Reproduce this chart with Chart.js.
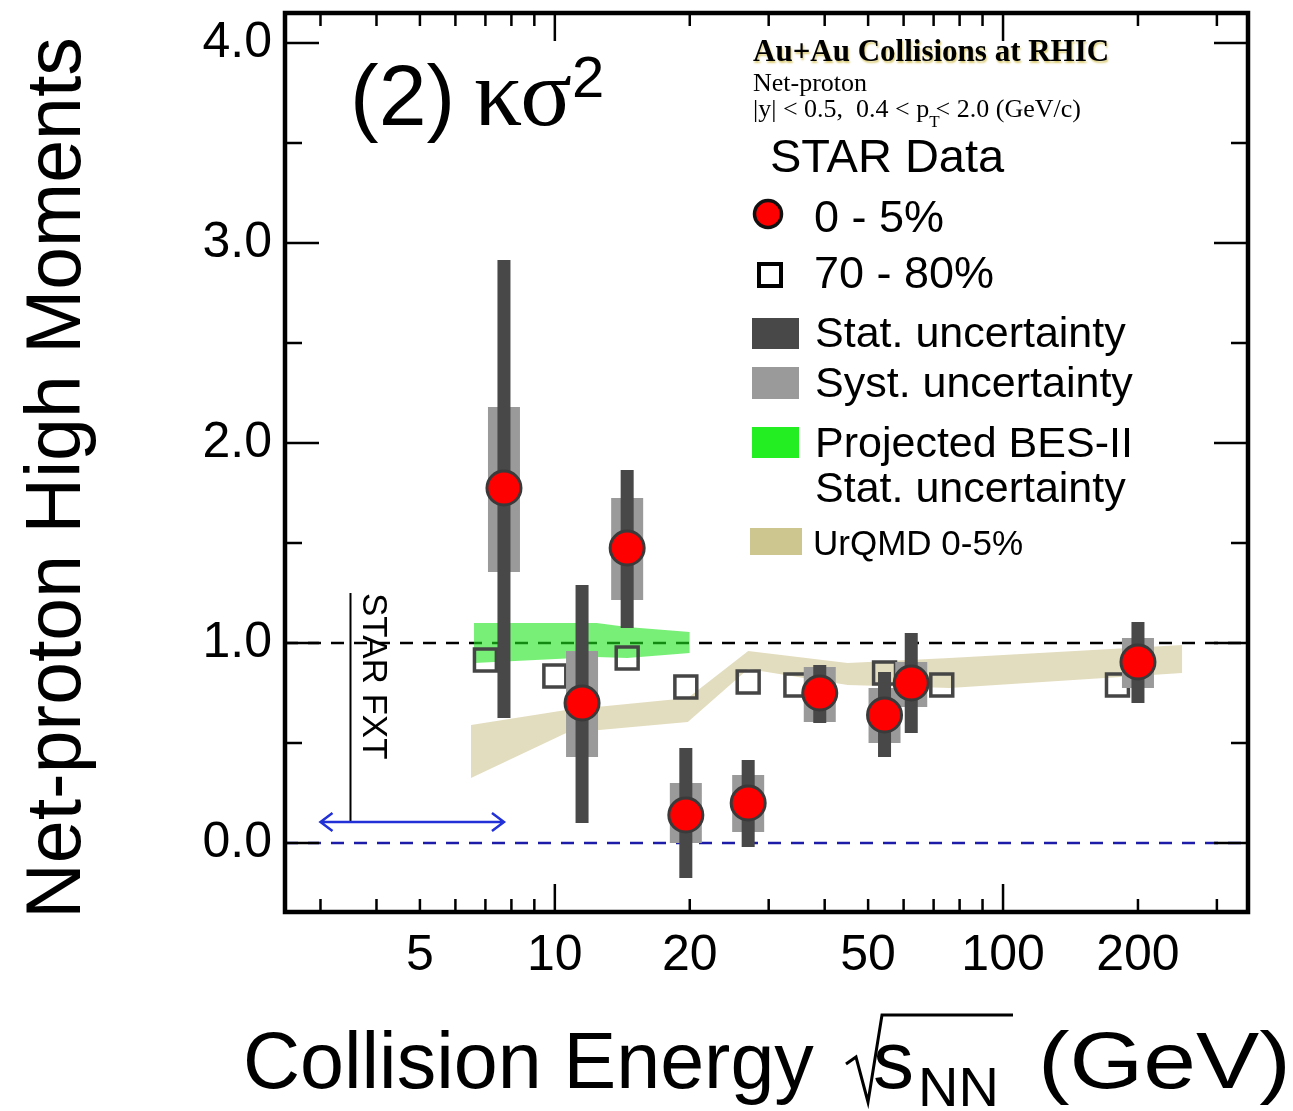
<!DOCTYPE html>
<html>
<head>
<meta charset="utf-8">
<script src="https://cdn.jsdelivr.net/npm/chart.js@4.4.0/dist/chart.umd.min.js"></script>
<style>
  html, body { margin:0; padding:0; background:#fff; }
  #chart { display:block; }
</style>
</head>
<body>
<canvas id="chart" width="1293" height="1111"></canvas>
<script>
// STAR 0-5% net-proton kappa*sigma^2 (collision energy in GeV)
const energies = [7.7, 11.5, 14.5, 19.6, 27, 39, 54.4, 62.4, 200]
const central = [1.775, 0.70, 1.475, 0.14, 0.20, 0.75, 0.64, 0.80, 0.905]
const statLow = [0.625, 0.10, 1.075, -0.175, -0.02, 0.60, 0.43, 0.55, 0.70]
const statHigh = [2.915, 1.29, 1.865, 0.475, 0.415, 0.89, 0.855, 1.05, 1.105]
const systLow = [1.355, 0.43, 1.215, 0.00, 0.055, 0.605, 0.50, 0.68, 0.775]
const systHigh = [2.18, 0.96, 1.725, 0.30, 0.34, 0.88, 0.775, 0.905, 1.025]

// 70-80% peripheral (drawn shifted in energy to avoid overlap)
const periphEnergies = [7.0, 10.0, 14.5, 19.6, 27, 34.5, 54.4, 73, 180]
const periph = [0.915, 0.835, 0.925, 0.78, 0.805, 0.79, 0.85, 0.79, 0.79]

// projected BES-II stat. uncertainty band
const besEnergies = [6.6, 12.4, 14.5, 20]
const besHigh = [1.10, 1.10, 1.08, 1.055]
const besLow = [0.90, 0.93, 0.925, 0.95]

// UrQMD 0-5% band
const urqmdEnergies = [6.5, 10.6, 19.8, 27, 45, 76, 251]
const urqmdHigh = [0.59, 0.665, 0.725, 0.96, 0.90, 0.925, 0.99]
const urqmdLow = [0.325, 0.55, 0.605, 0.87, 0.79, 0.775, 0.85]

// axes
const xTicks = [3, 4, 5, 6, 7, 8, 9, 10, 20, 30, 40, 50, 60, 70, 80, 90, 100, 200, 300]
const xMajor = [10, 100]
const xLabels = [5, 10, 20, 50, 100, 200]
const yTicks = [0, 1, 2, 3, 4]
const yMinor = [0.5, 1.5, 2.5, 3.5]
const xRange = [2.5, 352]

// STAR FXT marker
const fxtEnergy = 3.5
const fxtArrow = [3.0, 7.7]
const fxtLevel = 0.105
const fxtTop = 1.25

const SANS = '"Liberation Sans", Arial, Helvetica, sans-serif'
const SERIF = '"Liberation Serif", "Times New Roman", serif'
const FRAME_TOP = 13

function pts(xs, ys){ return xs.map((x, i) => ({ x, y: ys[i] })) }
function bars(lo, hi){
  const out = []
  energies.forEach((e, i) => { out.push({ x: e, y: lo[i] }, { x: e, y: hi[i] }, { x: e, y: null }) })
  return out
}

const clear = 'rgba(0,0,0,0)'

const deco = {
  id: 'deco',
  // pin the top of the plot frame (layout keeps adding a few px for the top label)
  afterLayout(chart){
    const ys = chart.scales.y
    const diff = ys.top - FRAME_TOP
    if (diff !== 0){
      ys.top = FRAME_TOP; ys.height += diff
      chart.chartArea.top = FRAME_TOP; chart.chartArea.height += diff
      ys.configure()
    }
  },
  afterDraw(chart){
    const ctx = chart.ctx
    const xs = chart.scales.x, ys = chart.scales.y
    const { left, right, top, bottom } = chart.chartArea
    ctx.save()

    // STAR FXT annotation
    const fx = xs.getPixelForValue(fxtEnergy)
    const fyTop = ys.getPixelForValue(fxtTop), fyLev = ys.getPixelForValue(fxtLevel)
    ctx.strokeStyle = '#000'; ctx.lineWidth = 2
    ctx.beginPath(); ctx.moveTo(fx, fyTop); ctx.lineTo(fx, fyLev); ctx.stroke()
    const a0 = xs.getPixelForValue(fxtArrow[0]), a1 = xs.getPixelForValue(fxtArrow[1])
    ctx.strokeStyle = '#2230d8'; ctx.lineWidth = 2.5
    ctx.beginPath(); ctx.moveTo(a0, fyLev); ctx.lineTo(a1, fyLev)
    ctx.moveTo(a0 + 12, fyLev - 9); ctx.lineTo(a0, fyLev); ctx.lineTo(a0 + 12, fyLev + 9)
    ctx.moveTo(a1 - 12, fyLev - 9); ctx.lineTo(a1, fyLev); ctx.lineTo(a1 - 12, fyLev + 9)
    ctx.stroke()
    ctx.save()
    ctx.translate(fx + 13, fyTop)
    ctx.rotate(Math.PI / 2)
    ctx.fillStyle = '#000'; ctx.font = '35px ' + SANS; ctx.textBaseline = 'alphabetic'
    ctx.fillText('STAR FXT', 0, 0)
    ctx.restore()

    // frame and inward ticks
    ctx.strokeStyle = '#000'; ctx.lineWidth = 2.5
    ctx.beginPath()
    xTicks.forEach(v => {
      const px = xs.getPixelForValue(v)
      const len = xMajor.includes(v) ? 28 : 13
      ctx.moveTo(px, bottom); ctx.lineTo(px, bottom - len)
      ctx.moveTo(px, top); ctx.lineTo(px, top + len)
    })
    yTicks.forEach(v => {
      const py = ys.getPixelForValue(v)
      ctx.moveTo(left, py); ctx.lineTo(left + 34, py)
      ctx.moveTo(right, py); ctx.lineTo(right - 34, py)
    })
    yMinor.forEach(v => {
      const py = ys.getPixelForValue(v)
      ctx.moveTo(left, py); ctx.lineTo(left + 17, py)
      ctx.moveTo(right, py); ctx.lineTo(right - 17, py)
    })
    ctx.stroke()
    ctx.lineWidth = 4.5
    ctx.strokeRect(left, top, right - left, bottom - top)

    // panel label (2) κσ²
    ctx.fillStyle = '#000'; ctx.textBaseline = 'alphabetic'; ctx.textAlign = 'left'
    ctx.font = '86px ' + SANS
    ctx.fillText('(2)', 350, 125)
    ctx.font = '96px ' + SERIF
    ctx.fillText('κσ', 474, 125)
    ctx.font = '58px ' + SANS
    ctx.fillText('2', 572, 97)

    // header texts
    ctx.save()
    ctx.font = 'bold 31px ' + SERIF
    ctx.shadowColor = 'rgba(205,185,70,0.75)'; ctx.shadowBlur = 2; ctx.shadowOffsetX = 1; ctx.shadowOffsetY = 1.5
    ctx.fillText('Au+Au Collisions at RHIC', 753, 61)
    ctx.restore()
    ctx.font = '26px ' + SERIF
    ctx.fillText('Net-proton', 753, 91)
    let s1 = '|y| < 0.5,  0.4 < p'
    ctx.fillText(s1, 753, 117)
    let cx = 753 + ctx.measureText(s1).width
    ctx.font = '17px ' + SERIF
    ctx.fillText('T', cx, 127)
    cx += ctx.measureText('T').width - 4
    ctx.font = '26px ' + SERIF
    ctx.fillText('< 2.0 (GeV/c)', cx, 117)

    // legend
    ctx.font = '47px ' + SANS
    ctx.fillText('STAR Data', 770, 172)
    ctx.font = '45px ' + SANS
    ctx.beginPath(); ctx.arc(768, 214, 13.5, 0, Math.PI * 2)
    ctx.fillStyle = '#ff0000'; ctx.fill(); ctx.lineWidth = 3.5; ctx.strokeStyle = '#111'; ctx.stroke()
    ctx.fillStyle = '#000'
    ctx.fillText('0 - 5%', 814, 232)
    ctx.lineWidth = 4; ctx.strokeStyle = '#000'
    ctx.strokeRect(759, 264, 22, 22)
    ctx.fillText('70 - 80%', 814, 288)
    ctx.font = '43px ' + SANS
    ctx.fillStyle = '#484848'; ctx.fillRect(752, 318, 47, 31)
    ctx.fillStyle = '#000'; ctx.fillText('Stat. uncertainty', 815, 347)
    ctx.fillStyle = '#9a9a9a'; ctx.fillRect(752, 367, 47, 32)
    ctx.fillStyle = '#000'; ctx.fillText('Syst. uncertainty', 815, 397)
    ctx.fillStyle = '#22ee22'; ctx.fillRect(752, 427, 47, 31)
    ctx.fillStyle = '#000'; ctx.fillText('Projected BES-II', 815, 457)
    ctx.fillText('Stat. uncertainty', 815, 502)
    ctx.fillStyle = '#cdc68e'; ctx.fillRect(750, 528, 52, 27)
    ctx.fillStyle = '#000'; ctx.font = '35px ' + SANS
    ctx.fillText('UrQMD 0-5%', 813, 555)

    // y axis title
    ctx.save()
    ctx.translate(80, 478)
    ctx.rotate(-Math.PI / 2)
    ctx.textAlign = 'center'
    ctx.font = '77px ' + SANS
    ctx.fillText('Net-proton High Moments', 0, 0)
    ctx.restore()

    // x axis title with square root
    ctx.font = '79px ' + SANS
    ctx.fillText('Collision Energy', 243, 1088)
    ctx.strokeStyle = '#000'; ctx.lineWidth = 3
    ctx.beginPath()
    ctx.moveTo(846, 1064); ctx.lineTo(856, 1057); ctx.lineTo(868, 1102); ctx.lineTo(882, 1015); ctx.lineTo(1013, 1015)
    ctx.stroke()
    ctx.font = '82px ' + SANS
    ctx.fillText('s', 873, 1088)
    ctx.font = '56px ' + SANS
    ctx.fillText('NN', 918, 1106)
    ctx.save()
    ctx.translate(1038, 1088)
    ctx.scale(1.2, 1)
    ctx.font = '79px ' + SANS
    ctx.fillText('(GeV)', 0, 0)
    ctx.restore()

    ctx.restore()
  }
}

new Chart(document.getElementById('chart').getContext('2d'), {
  type: 'scatter',
  data: {
    datasets: [
      { label: 'ref1', data: pts(xRange, [1, 1]), showLine: true, borderColor: '#000', borderWidth: 2.5, borderDash: [13, 10], pointRadius: 0, order: 8 },
      { label: 'ref0', data: pts(xRange, [0, 0]), showLine: true, borderColor: '#1c1ca8', borderWidth: 2.5, borderDash: [13, 10], pointRadius: 0, order: 8 },
      { label: 'UrQMD hi', data: pts(urqmdEnergies, urqmdHigh), showLine: true, borderColor: clear, borderWidth: 1, pointRadius: 0, fill: '+1', backgroundColor: '#e3ddbf', order: 6 },
      { label: 'UrQMD lo', data: pts(urqmdEnergies, urqmdLow), showLine: true, borderColor: clear, borderWidth: 1, pointRadius: 0, fill: false, order: 6 },
      { label: 'BES hi', data: pts(besEnergies, besHigh), showLine: true, borderColor: clear, borderWidth: 1, pointRadius: 0, fill: '+1', backgroundColor: 'rgba(30,230,30,0.6)', order: 5 },
      { label: 'BES lo', data: pts(besEnergies, besLow), showLine: true, borderColor: clear, borderWidth: 1, pointRadius: 0, fill: false, order: 5 },
      { label: '70-80%', data: pts(periphEnergies, periph), pointStyle: 'rect', pointRadius: 15.5, pointBorderWidth: 3.5, pointBorderColor: '#454545', pointBackgroundColor: clear, order: 4 },
      { label: 'syst', data: bars(systLow, systHigh), showLine: true, spanGaps: false, borderColor: '#9a9a9a', borderWidth: 32, borderCapStyle: 'butt', pointRadius: 0, order: 3 },
      { label: 'stat', data: bars(statLow, statHigh), showLine: true, spanGaps: false, borderColor: '#484848', borderWidth: 13, borderCapStyle: 'butt', pointRadius: 0, order: 2 },
      { label: '0-5%', data: pts(energies, central), pointRadius: 17, pointBorderWidth: 3, pointBorderColor: '#3a3a3a', pointBackgroundColor: '#ff0000', order: 1 }
    ]
  },
  options: {
    responsive: false,
    animation: false,
    layout: { padding: { left: 0, right: 45, top: FRAME_TOP, bottom: 0 } },
    plugins: { legend: { display: false }, tooltip: { enabled: false } },
    scales: {
      x: {
        type: 'logarithmic', min: xRange[0], max: xRange[1],
        grid: { display: false, drawTicks: false }, border: { display: false },
        afterBuildTicks: s => { s.ticks = xTicks.map(v => ({ value: v })) },
        afterFit: s => { s.height = 199; s.paddingLeft = 0; s.paddingRight = 0 },
        ticks: { autoSkip: false, maxRotation: 0, minRotation: 0, padding: 14, color: '#000',
          font: { family: SANS, size: 50 },
          callback: v => xLabels.includes(v) ? String(v) : '' }
      },
      y: {
        min: -0.345, max: 4.15,
        grid: { display: false, drawTicks: false }, border: { display: false },
        afterBuildTicks: s => { s.ticks = yTicks.map(v => ({ value: v })) },
        afterFit: s => { s.width = 285; s.paddingTop = 0; s.paddingBottom = 0 },
        ticks: { padding: 13, color: '#000', font: { family: SANS, size: 50 },
          callback: v => Number(v).toFixed(1) }
      }
    }
  },
  plugins: [deco]
})
</script>
</body>
</html>
